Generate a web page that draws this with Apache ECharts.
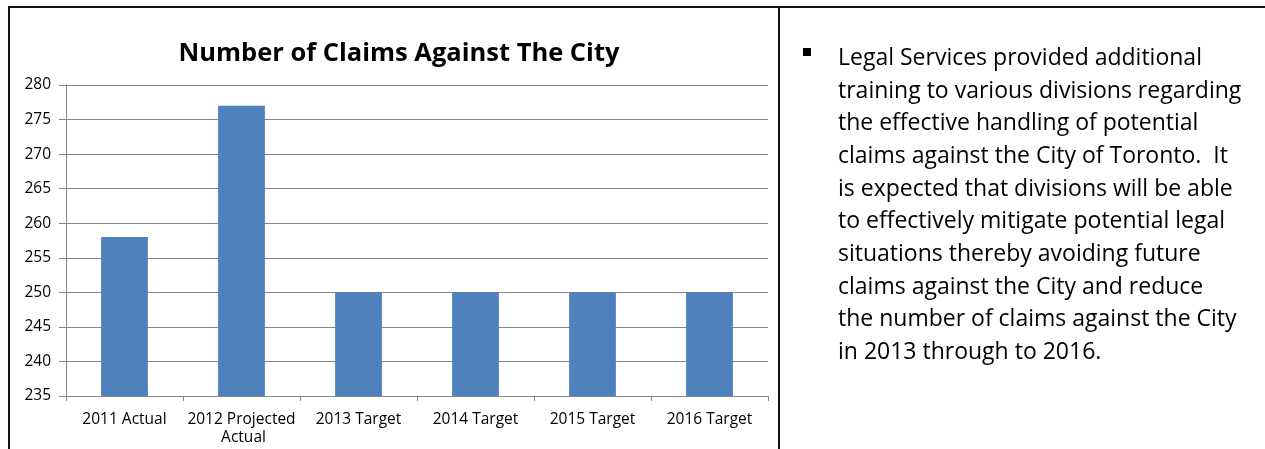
<!DOCTYPE html>
<html>
<head>
<meta charset="utf-8">
<script src="https://cdn.jsdelivr.net/npm/echarts@6/dist/echarts.min.js"></script>
<style>
  html, body { margin: 0; padding: 0; background: #fff; }
  #chart { width: 1265px; height: 449px; }
</style>
</head>
<body>
<div id="chart"></div>
<script>
// data
const categories = ['2011 Actual', '2012 Projected Actual', '2013 Target', '2014 Target', '2015 Target', '2016 Target']
const claims = [258, 277, 250, 250, 250, 250]
const noteLines = [
  'Legal Services provided additional',
  'training to various divisions regarding',
  'the effective handling of potential',
  'claims against the City of Toronto.  It',
  'is expected that divisions will be able',
  'to effectively mitigate potential legal',
  'situations thereby avoiding future',
  'claims against the City and reduce',
  'the number of claims against the City',
  'in 2013 through to 2016.'
]

const font = '"Open Sans", sans-serif'
const chart = echarts.init(document.getElementById('chart'), null, { renderer: 'canvas' })

chart.setOption({
  animation: false,
  backgroundColor: '#fff',
  title: {
    text: 'Number of Claims Against The City',
    left: 394,
    top: 36,
    textAlign: 'center',
    textStyle: {
      fontFamily: font,
      fontWeight: 'bold',
      fontSize: 25.5,
      color: '#000'
    }
  },
  grid: {
    left: 66,
    right: 497,
    top: 85,
    bottom: 53,
    containLabel: false,
    outerBoundsMode: 'none'
  },
  xAxis: {
    type: 'category',
    data: categories,
    axisLine: { lineStyle: { color: '#868686', width: 1 } },
    axisTick: { show: true, length: 5, lineStyle: { color: '#868686' } },
    axisLabel: {
      interval: 0,
      margin: 15,
      width: 112,
      overflow: 'break',
      lineHeight: 18,
      fontFamily: font,
      fontSize: 15.5,
      color: '#000'
    }
  },
  yAxis: {
    type: 'value',
    min: 235,
    max: 280,
    interval: 5,
    axisLine: { show: true, lineStyle: { color: '#868686', width: 1 } },
    axisTick: { show: true, length: 7, lineStyle: { color: '#868686' } },
    splitLine: { lineStyle: { color: '#868686', width: 1 } },
    axisLabel: {
      margin: 15,
      fontFamily: font,
      fontSize: 15.5,
      color: '#000'
    }
  },
  series: [{
    type: 'bar',
    data: claims,
    barWidth: '40%',
    itemStyle: { color: '#4F81BD' }
  }],
  graphic: [
    // page frame
    { type: 'line', shape: { x1: 8, y1: 7, x2: 1265, y2: 7 }, style: { stroke: '#111', lineWidth: 2 } },
    { type: 'line', shape: { x1: 9, y1: 6, x2: 9, y2: 449 }, style: { stroke: '#111', lineWidth: 2 } },
    { type: 'line', shape: { x1: 779, y1: 6, x2: 779, y2: 449 }, style: { stroke: '#111', lineWidth: 2 } },
    // bullet and note
    { type: 'rect', shape: { x: 803, y: 48, width: 8, height: 8 }, style: { fill: '#000' } },
    {
      type: 'text',
      x: 838,
      y: 42,
      style: {
        text: noteLines.join('\n'),
        fontFamily: font,
        fontSize: 23,
        lineHeight: 32.7,
        fill: '#000',
        verticalAlign: 'top'
      }
    }
  ]
})
</script>
</body>
</html>
